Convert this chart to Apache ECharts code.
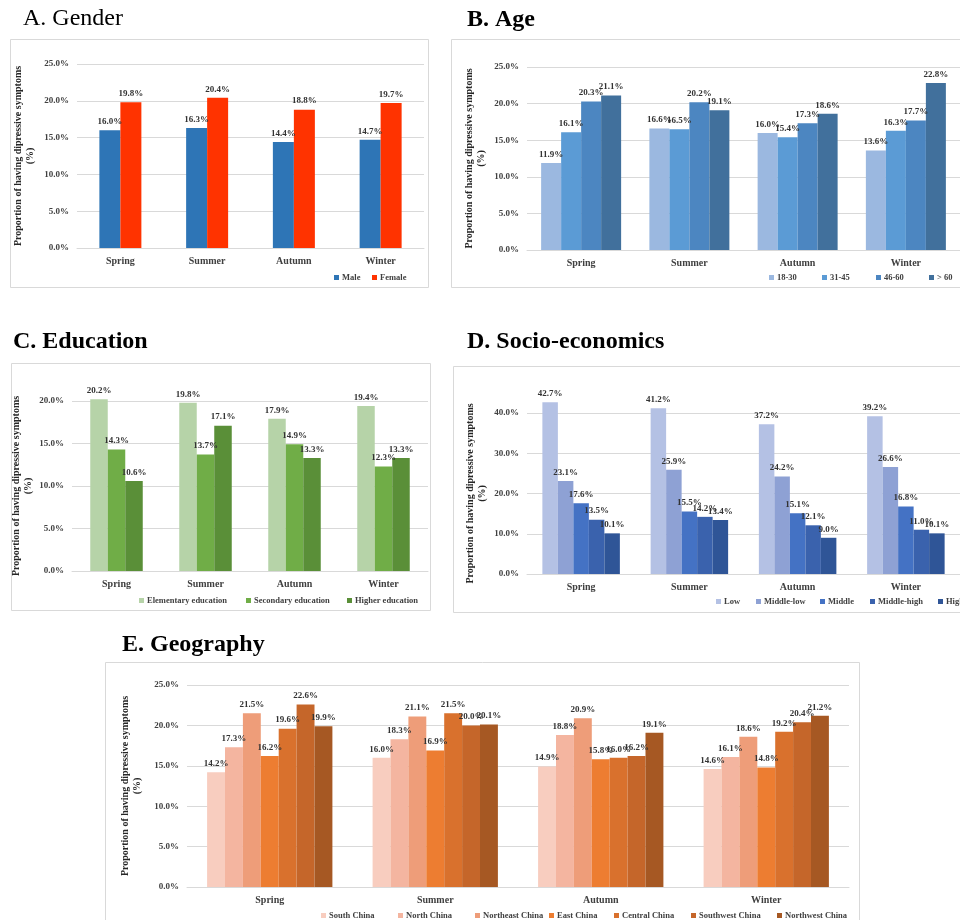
<!DOCTYPE html>
<html>
<head>
	<meta charset="utf-8">
</head>
<body style="margin: 0; overflow: hidden; background: #fff">
<div id="container" style="width: 960px; height: 920px"></div>
<script type="text/javascript" src="https://cdn.jsdelivr.net/npm/echarts@6/dist/echarts.min.js"></script>
<script type="text/javascript">
    var seasons = ['Spring', 'Summer', 'Autumn', 'Winter'];

    // A. Gender
    var genderNames = ['Male', 'Female'];
    var male = [16.0, 16.3, 14.4, 14.7];
    var female = [19.8, 20.4, 18.8, 19.7];

    // B. Age
    var ageNames = ['18-30', '31-45', '46-60', '> 60'];
    var age1830 = [11.9, 16.6, 16.0, 13.6];
    var age3145 = [16.1, 16.5, 15.4, 16.3];
    var age4660 = [20.3, 20.2, 17.3, 17.7];
    var age60 = [21.1, 19.1, 18.6, 22.8];

    // C. Education
    var eduNames = ['Elementary education', 'Secondary education', 'Higher education'];
    var eduElem = [20.2, 19.8, 17.9, 19.4];
    var eduSec = [14.3, 13.7, 14.9, 12.3];
    var eduHigh = [10.6, 17.1, 13.3, 13.3];

    // D. Socio-economics
    var sesNames = ['Low', 'Middle-low', 'Middle', 'Middle-high', 'High'];
    var sesLow = [42.7, 41.2, 37.2, 39.2];
    var sesMidLow = [23.1, 25.9, 24.2, 26.6];
    var sesMid = [17.6, 15.5, 15.1, 16.8];
    var sesMidHigh = [13.5, 14.2, 12.1, 11.0];
    var sesHigh = [10.1, 13.4, 9.0, 10.1];

    // E. Geography
    var geoNames = ['South China', 'North China', 'Northeast China', 'East China', 'Central China', 'Southwest China', 'Northwest China'];
    var geoSouth = [14.2, 16.0, 14.9, 14.6];
    var geoNorth = [17.3, 18.3, 18.8, 16.1];
    var geoNortheast = [21.5, 21.1, 20.9, 18.6];
    var geoEast = [16.2, 16.9, 15.8, 14.8];
    var geoCentral = [19.6, 21.5, 16.0, 19.2];
    var geoSouthwest = [22.6, 20.0, 16.2, 20.4];
    var geoNorthwest = [19.9, 20.1, 19.1, 21.2];

    var yName = 'Proportion of having dipressive symptoms\n(%)';
    var serif = '"Liberation Serif", "Times New Roman", serif';

    var panels = [
        {title: 'A. Gender', bold: false, tx: 23, ty: 7, box: [10, 39, 418, 248],
            grid: {left: 77, top: 64, width: 347, height: 184}, max: 25, interval: 5, nameGap: 41,
            names: genderNames, data: [male, female], colors: ['#2E75B6', '#FF3300'], barWidth: 21,
            legendX: [334, 372], legendY: 278},
        {title: 'B. Age', bold: true, tx: 467, ty: 8, box: [451, 39, 540, 248],
            grid: {left: 527, top: 67, width: 440, height: 183}, max: 25, interval: 5, nameGap: 40,
            names: ageNames, data: [age1830, age3145, age4660, age60],
            colors: ['#9BB8E0', '#5B9BD5', '#4C86C1', '#41709C'], barWidth: 20,
            legendX: [769, 822, 876, 929], legendY: 278},
        {title: 'C. Education', bold: true, tx: 13, ty: 330, box: [11, 363, 419, 247],
            grid: {left: 72, top: 401, width: 356, height: 170}, max: 20, interval: 5, nameGap: 38,
            names: eduNames, data: [eduElem, eduSec, eduHigh],
            colors: ['#B6D3A8', '#70AD47', '#5A8F38'], barWidth: 17.5,
            legendX: [139, 246, 347], legendY: 601},
        {title: 'D. Socio-economics', bold: true, tx: 467, ty: 330, box: [453, 366, 540, 246],
            grid: {left: 527, top: 413, width: 443, height: 161}, max: 40, interval: 10, nameGap: 39,
            names: sesNames, data: [sesLow, sesMidLow, sesMid, sesMidHigh, sesHigh],
            colors: ['#B4C1E4', '#8EA1D4', '#4472C4', '#3A62AD', '#2F5597'], barWidth: 15.5,
            legendX: [716, 756, 820, 870, 938], legendY: 602},
        {title: 'E. Geography', bold: true, tx: 122, ty: 633, box: [105, 662, 754, 300],
            grid: {left: 187, top: 685, width: 662, height: 202}, max: 25, interval: 5, nameGap: 39,
            names: geoNames, data: [geoSouth, geoNorth, geoNortheast, geoEast, geoCentral, geoSouthwest, geoNorthwest],
            colors: ['#F8CDBF', '#F4B5A0', '#EE9D79', '#ED7D31', '#D9712D', '#C5662A', '#A65823'], barWidth: 17.9,
            legendX: [321, 398, 475, 549, 614, 691, 777], legendY: 916}
    ];

    var option = {
        backgroundColor: '#fff',
        animation: false,
        title: [], grid: [], xAxis: [], yAxis: [], series: [], legend: [], graphic: []
    };

    panels.forEach(function (p, i) {
        option.title.push({
            text: p.title, left: p.tx, top: p.ty, padding: 0,
            textStyle: {fontFamily: serif, fontSize: 24, fontWeight: p.bold ? 'bold' : 'normal', color: '#000'}
        });
        option.graphic.push({
            type: 'rect', silent: true, z: -1,
            shape: {x: p.box[0] + 0.5, y: p.box[1] + 0.5, width: p.box[2], height: p.box[3]},
            style: {fill: 'none', stroke: '#D9D9D9', lineWidth: 1}
        });
        option.grid.push(p.grid);
        option.xAxis.push({
            type: 'category', gridIndex: i, data: seasons,
            axisLine: {lineStyle: {color: '#D9D9D9'}},
            axisTick: {show: false},
            axisLabel: {margin: 8, fontFamily: serif, fontSize: 10, fontWeight: 'bold', color: '#404040'}
        });
        option.yAxis.push({
            type: 'value', gridIndex: i, min: 0, max: p.max, interval: p.interval,
            axisLine: {show: false}, axisTick: {show: false},
            splitLine: {lineStyle: {color: '#D9D9D9'}},
            axisLabel: {
                margin: 8, fontFamily: serif, fontSize: 9, fontWeight: 'bold', color: '#404040',
                formatter: function (v) { return v.toFixed(1) + '%'; }
            },
            name: yName, nameLocation: 'middle', nameRotate: 90, nameGap: p.nameGap,
            nameTextStyle: {fontFamily: serif, fontSize: 10, fontWeight: 'bold', color: '#262626', lineHeight: 12}
        });
        p.data.forEach(function (d, j) {
            option.series.push({
                type: 'bar', name: p.names[j], xAxisIndex: i, yAxisIndex: i,
                data: d, barWidth: p.barWidth, barGap: '0%', clip: false,
                itemStyle: {color: p.colors[j]},
                label: {
                    show: true, position: 'top', distance: 4,
                    fontFamily: serif, fontSize: 9, fontWeight: 'bold', color: '#333',
                    formatter: function (o) { return o.value.toFixed(1) + '%'; }
                }
            });
            option.legend.push({
                data: [p.names[j]], left: p.legendX[j], top: p.legendY - 5,
                padding: 0, itemWidth: 5, itemHeight: 5, itemGap: 0, icon: 'rect',
                textStyle: {fontFamily: serif, fontSize: 8.5, fontWeight: 'bold', color: '#404040', padding: [0, 0, 0, -2]}
            });
        });
    });

    var myChart = echarts.init(document.getElementById('container'));
    myChart.setOption(option);
</script>
</body>
</html>
